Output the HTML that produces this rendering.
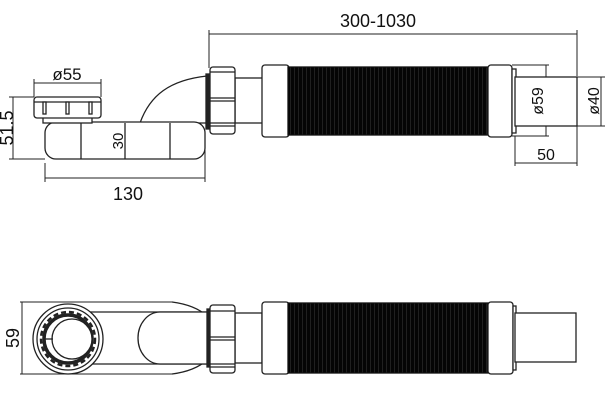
<!DOCTYPE html>
<html><head><style>body{margin:0;background:#fff}svg{display:block}text{font-family:"Liberation Sans",sans-serif;fill:#111}</style></head>
<body>
<svg width="613" height="400" viewBox="0 0 613 400" xmlns="http://www.w3.org/2000/svg">
<defs>
<pattern id="corr" width="4" height="10" patternUnits="userSpaceOnUse">
<rect width="4" height="10" fill="#050505"/><rect x="2.5" width="0.5" height="10" fill="#3a3a3a"/>
</pattern>
</defs>
<g fill="none" stroke="#222" stroke-width="1">
<line x1="209" y1="34" x2="577" y2="34"/>
<line x1="209" y1="30" x2="209" y2="68"/>
<line x1="577" y1="30" x2="577" y2="76"/>
<line x1="34" y1="83" x2="101" y2="83"/>
<line x1="34" y1="79" x2="34" y2="97"/>
<line x1="101" y1="79" x2="101" y2="97"/>
<line x1="13" y1="97" x2="13" y2="159"/>
<line x1="9" y1="97" x2="34" y2="97"/>
<line x1="9" y1="159" x2="45" y2="159"/>
<line x1="45" y1="178" x2="205" y2="178"/>
<line x1="45" y1="163" x2="45" y2="182"/>
<line x1="205" y1="140" x2="205" y2="182"/>
<line x1="546" y1="65" x2="546" y2="136"/>
<line x1="512" y1="65" x2="549" y2="65"/>
<line x1="512" y1="136" x2="549" y2="136"/>
<line x1="601" y1="77" x2="601" y2="126"/>
<line x1="577" y1="77" x2="605" y2="77"/>
<line x1="577" y1="126" x2="605" y2="126"/>
<line x1="515" y1="163" x2="577" y2="163"/>
<line x1="515" y1="136" x2="515" y2="166"/>
<line x1="577" y1="126" x2="577" y2="166"/>
</g>
<g fill="#fff" stroke="#222" stroke-width="1.3">
<path d="M140 123 C150 95 170 80 207 76 L207 123 Z"/>
<rect x="45" y="122" width="160" height="37" rx="11"/>
<line x1="81" y1="123" x2="81" y2="159"/>
<line x1="125" y1="123" x2="125" y2="159"/>
<line x1="170" y1="123" x2="170" y2="159"/>
<rect x="43" y="115" width="49" height="8"/>
<rect x="34" y="97" width="67" height="21" rx="3"/>
<line x1="34" y1="102" x2="101" y2="102"/>
<rect x="43" y="102" width="3" height="12"/>
<rect x="66" y="102" width="3" height="12"/>
<rect x="89" y="102" width="3" height="12"/>
<rect x="235" y="78" width="28" height="45"/>
<rect x="206" y="74" width="4" height="55" fill="#222"/>
<rect x="210" y="67" width="25" height="67" rx="3"/>
<line x1="210" y1="72" x2="235" y2="72"/>
<line x1="210" y1="98" x2="235" y2="98"/>
<line x1="210" y1="101" x2="235" y2="101"/>
<line x1="210" y1="123" x2="235" y2="123"/>
<line x1="210" y1="126" x2="235" y2="126"/>
<rect x="262" y="65" width="27" height="72" rx="3"/>
<rect x="288" y="67" width="200" height="68" fill="url(#corr)" stroke="#111"/>
<rect x="488" y="65" width="24" height="72" rx="3"/>
<rect x="512" y="69" width="4" height="64"/>
<rect x="515" y="77" width="62" height="49"/>
<line x1="20" y1="302" x2="172" y2="302" stroke-width="1"/>
<line x1="20" y1="374" x2="172" y2="374" stroke-width="1"/>
<line x1="22" y1="302" x2="22" y2="374" stroke-width="1"/>
<path d="M172 302 Q195 305 207 316 L207 360 Q195 371 172 374"/>
<line x1="90" y1="312" x2="207" y2="312"/>
<line x1="90" y1="364" x2="207" y2="364"/>
<path d="M207 312 L160 312 A22 26 0 0 0 160 364 L207 364"/>
<circle cx="68" cy="339" r="35"/>
<circle cx="68" cy="339" r="31"/>
<circle cx="68" cy="339" r="27" stroke-dasharray="5 3" stroke-width="2.5"/>
<circle cx="68" cy="339" r="24" stroke-width="3.5"/>
<circle cx="72" cy="339" r="20"/>
<line x1="45" y1="339" x2="53" y2="339"/>
<rect x="235" y="313" width="27" height="50"/>
<rect x="207" y="309" width="4" height="58" fill="#222"/>
<rect x="210" y="305" width="25" height="68" rx="3"/>
<line x1="210" y1="311" x2="235" y2="311"/>
<line x1="210" y1="337" x2="235" y2="337"/>
<line x1="210" y1="340" x2="235" y2="340"/>
<line x1="210" y1="364" x2="235" y2="364"/>
<line x1="210" y1="367" x2="235" y2="367"/>
<rect x="262" y="302" width="27" height="72" rx="3"/>
<rect x="288" y="303" width="200" height="70" fill="url(#corr)" stroke="#111"/>
<rect x="488" y="302" width="25" height="72" rx="3"/>
<rect x="513" y="306" width="3" height="64"/>
<rect x="515" y="313" width="61" height="49"/>
</g>
<g font-size="18">
<text x="378" y="27" text-anchor="middle">300-1030</text>
<text x="67" y="80" text-anchor="middle" font-size="17">ø55</text>
<text x="128" y="200" text-anchor="middle">130</text>
<text x="546" y="160" text-anchor="middle" font-size="16">50</text>
<text transform="translate(13,128) rotate(-90)" text-anchor="middle">51.5</text>
<text transform="translate(123,141) rotate(-90)" text-anchor="middle" font-size="15">30</text>
<text transform="translate(543,101) rotate(-90)" text-anchor="middle" font-size="16">ø59</text>
<text transform="translate(599,101) rotate(-90)" text-anchor="middle" font-size="16">ø40</text>
<text transform="translate(19,338) rotate(-90)" text-anchor="middle">59</text>
</g>
</svg>
</body></html>
